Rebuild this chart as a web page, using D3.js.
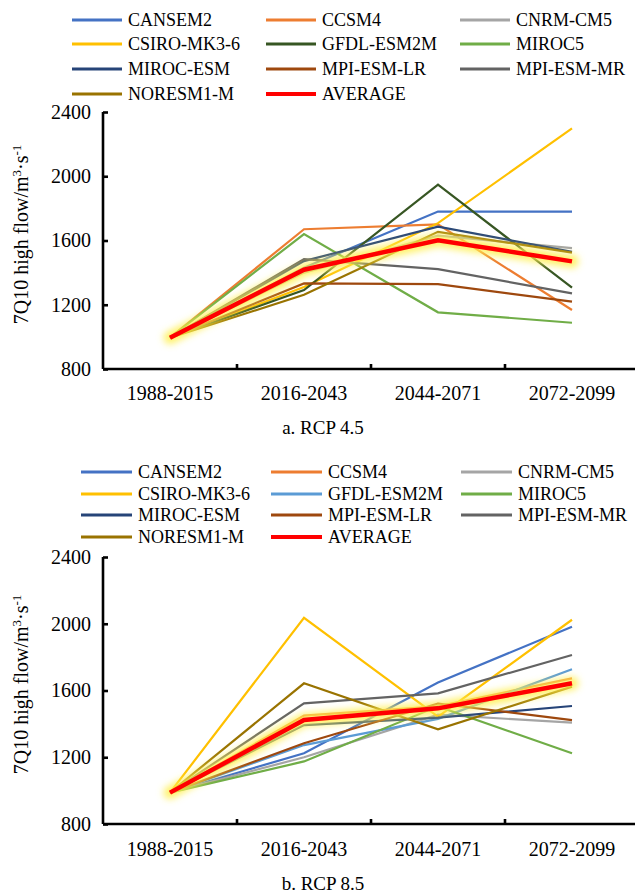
<!DOCTYPE html>
<html>
<head>
<meta charset="utf-8">
<script src="https://cdn.jsdelivr.net/npm/d3@7"></script>
<style>
  html, body { margin: 0; padding: 0; background: #fff; }
  svg { display: block; }
</style>
</head>
<body>
<svg id="chart" width="635" height="895"></svg>
<script>
// Periods on the x axis
const periods = ["1988-2015", "2016-2043", "2044-2071", "2072-2099"];
const models = ["CANSEM2", "CCSM4", "CNRM-CM5", "CSIRO-MK3-6", "GFDL-ESM2M", "MIROC5",
                "MIROC-ESM", "MPI-ESM-LR", "MPI-ESM-MR", "NORESM1-M", "AVERAGE"];
const yTicks = [800, 1200, 1600, 2000, 2400];

// 7Q10 high flow (m3/s), RCP 4.5
const rcp45 = {
  "CANSEM2":     [995, 1430, 1780, 1780],
  "CCSM4":       [995, 1670, 1700, 1167],
  "CNRM-CM5":    [995, 1400, 1630, 1552],
  "CSIRO-MK3-6": [995, 1310, 1708, 2298],
  "GFDL-ESM2M":  [995, 1291, 1948, 1306],
  "MIROC5":      [995, 1640, 1153, 1088],
  "MIROC-ESM":   [995, 1472, 1686, 1530],
  "MPI-ESM-LR":  [995, 1333, 1328, 1219],
  "MPI-ESM-MR":  [995, 1484, 1422, 1271],
  "NORESM1-M":   [995, 1262, 1654, 1524],
  "AVERAGE":     [995, 1418, 1602, 1470]
};

// 7Q10 high flow (m3/s), RCP 8.5
const rcp85 = {
  "CANSEM2":     [988, 1224, 1648, 1982],
  "CCSM4":       [988, 1450, 1505, 1673],
  "CNRM-CM5":    [988, 1200, 1455, 1407],
  "CSIRO-MK3-6": [988, 2036, 1443, 2024],
  "GFDL-ESM2M":  [988, 1273, 1430, 1727],
  "MIROC5":      [988, 1175, 1505, 1224],
  "MIROC-ESM":   [988, 1393, 1437, 1507],
  "MPI-ESM-LR":  [988, 1284, 1522, 1423],
  "MPI-ESM-MR":  [988, 1523, 1583, 1813],
  "NORESM1-M":   [988, 1643, 1367, 1623],
  "AVERAGE":     [988, 1423, 1493, 1643]
};

const colors45 = {
  "CANSEM2": "#4472C4", "CCSM4": "#ED7D31", "CNRM-CM5": "#A5A5A5", "CSIRO-MK3-6": "#FFC000",
  "GFDL-ESM2M": "#375623", "MIROC5": "#70AD47", "MIROC-ESM": "#264478", "MPI-ESM-LR": "#9E480E",
  "MPI-ESM-MR": "#636363", "NORESM1-M": "#997300", "AVERAGE": "#FF0000"
};
const colors85 = Object.assign({}, colors45, { "GFDL-ESM2M": "#5B9BD5" });

const FONT = "'Liberation Serif', 'Times New Roman', Times, serif";

const svg = d3.select("#chart");

// soft yellow glow behind the average line
const defs = svg.append("defs");
defs.append("filter").attr("id", "glow")
  .attr("x", "-20%").attr("y", "-20%").attr("width", "140%").attr("height", "140%")
  .append("feGaussianBlur").attr("stdDeviation", 3.5);

function drawPanel(cfg) {
  const g = svg.append("g");
  const x = d3.scaleBand().domain(periods).range([cfg.left, cfg.right]);
  const y = d3.scaleLinear().domain([800, 2400]).range([cfg.bottom, cfg.top]);
  const line = d3.line()
    .x((d, i) => x(periods[i]) + x.bandwidth() / 2)
    .y(d => y(d));

  // legend
  const legend = g.append("g");
  models.forEach((m, i) => {
    const col = i % 3, row = Math.floor(i / 3);
    const lx = cfg.legendX[col], ly = cfg.legendY[row];
    legend.append("line")
      .attr("x1", lx).attr("x2", lx + cfg.legendLen)
      .attr("y1", ly).attr("y2", ly)
      .attr("stroke", cfg.colors[m])
      .attr("stroke-width", m === "AVERAGE" ? 4 : 3);
    legend.append("text")
      .attr("x", lx + cfg.legendLen + 6).attr("y", ly)
      .attr("dy", "0.35em")
      .style("font-family", FONT)
      .style("font-size", "18px")
      .style("fill", "#000")
      .text(m);
  });

  // series
  const series = g.append("g");
  models.filter(m => m !== "AVERAGE").forEach(m => {
    series.append("path")
      .attr("d", line(cfg.data[m]))
      .attr("fill", "none")
      .attr("stroke", cfg.colors[m])
      .attr("stroke-width", 2.2)
      .attr("stroke-linejoin", "miter");
  });
  series.append("path")
    .attr("d", line(cfg.data["AVERAGE"]))
    .attr("fill", "none")
    .attr("stroke", "#FFF050")
    .attr("stroke-opacity", 0.85)
    .attr("stroke-width", 13)
    .attr("stroke-linecap", "round")
    .attr("stroke-linejoin", "round")
    .attr("filter", "url(#glow)");
  series.append("path")
    .attr("d", line(cfg.data["AVERAGE"]))
    .attr("fill", "none")
    .attr("stroke", "#FF0000")
    .attr("stroke-width", 4.5)
    .attr("stroke-linejoin", "miter");

  // y axis
  const yAxis = g.append("g")
    .attr("transform", `translate(${cfg.left},0)`)
    .call(d3.axisLeft(y).tickValues(yTicks).tickFormat(d3.format("d")).tickSize(-5).tickPadding(12));
  yAxis.attr("font-family", null).attr("font-size", null);
  yAxis.select(".domain").attr("stroke", "#000").attr("stroke-width", 2.6)
    .attr("d", `M0,${cfg.bottom}V${cfg.top}`);
  yAxis.selectAll(".tick line").attr("stroke", "#000").attr("stroke-width", 2.6);
  yAxis.selectAll(".tick text")
    .style("font-family", FONT)
    .style("font-size", "20px")
    .style("fill", "#000");

  // x axis
  const xAxis = g.append("g")
    .attr("transform", `translate(0,${cfg.bottom})`)
    .call(d3.axisBottom(x).tickSize(0).tickPadding(cfg.xPad));
  xAxis.attr("font-family", null).attr("font-size", null);
  xAxis.select(".domain").attr("stroke", "#000").attr("stroke-width", 2.6)
    .attr("d", `M${cfg.left},0H${cfg.right}`);
  xAxis.selectAll(".tick text")
    .style("font-family", FONT)
    .style("font-size", "20px")
    .style("fill", "#000");
  // boundary ticks between categories, pointing inward
  periods.slice(1).forEach(p => {
    xAxis.append("line")
      .attr("x1", x(p)).attr("x2", x(p))
      .attr("y1", 0).attr("y2", -5)
      .attr("stroke", "#000").attr("stroke-width", 2.6);
  });

  // y axis title
  const title = g.append("text")
    .attr("transform", `translate(${cfg.titleX},${(cfg.top + cfg.bottom) / 2 - 6}) rotate(-90)`)
    .attr("text-anchor", "middle")
    .style("font-family", FONT)
    .style("font-size", "20px")
    .style("fill", "#000");
  title.append("tspan").text("7Q10 high flow/m");
  title.append("tspan").attr("baseline-shift", "super").style("font-size", "13px").text("3");
  title.append("tspan").text("·s");
  title.append("tspan").attr("baseline-shift", "super").style("font-size", "13px").text("-1");

  // caption
  g.append("text")
    .attr("x", 323).attr("y", cfg.captionY)
    .attr("text-anchor", "middle")
    .style("font-family", FONT)
    .style("font-size", "19px")
    .style("fill", "#000")
    .text(cfg.caption);
}

drawPanel({
  data: rcp45, colors: colors45,
  left: 103, right: 639, top: 112, bottom: 369,
  legendX: [72, 266, 460], legendY: [20, 44, 69, 94], legendLen: 50,
  titleX: 28, xPad: 17, caption: "a. RCP 4.5", captionY: 434
});

drawPanel({
  data: rcp85, colors: colors85,
  left: 103, right: 639, top: 557, bottom: 824,
  legendX: [81, 271, 461], legendY: [472, 494, 515, 537], legendLen: 51,
  titleX: 28, xPad: 18, caption: "b. RCP 8.5", captionY: 890
});
</script>
</body>
</html>
